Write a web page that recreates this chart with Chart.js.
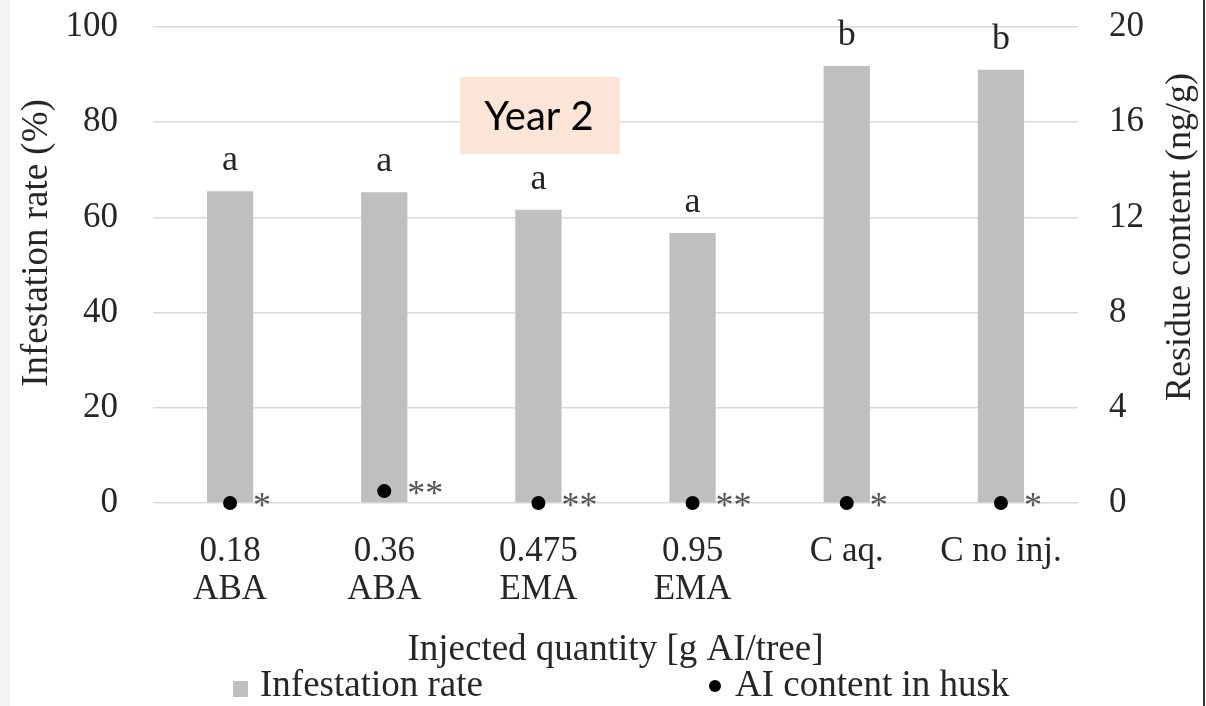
<!DOCTYPE html>
<html>
<head>
<meta charset="utf-8">
<script src="https://cdn.jsdelivr.net/npm/chart.js@4"></script>
<style>
  html, body { margin: 0; padding: 0; background: #fff; }
  #wrap { position: relative; width: 1206px; height: 706px; }
  canvas { display: block; }
</style>
</head>
<body>
<div id="wrap"><canvas id="c" width="1206" height="706"></canvas></div>
<script>
// Treatments (injected quantity / product)
const categories = [["0.18", "ABA"], ["0.36", "ABA"], ["0.475", "EMA"], ["0.95", "EMA"], ["C aq."], ["C no inj."]];
// Infestation rate (%), left axis
const infestation = [65.5, 65.3, 61.6, 56.7, 91.8, 91.0];
// AI content in husk (ng/g), right axis
const residue = [0, 0.5, 0, 0, 0, 0];
// Significance letters above bars and asterisks beside the residue points
const letters = ["a", "a", "a", "a", "b", "b"];
const stars = ["*", "**", "**", "**", "*", "*"];
// Axis ticks
const leftTicks = [0, 20, 40, 60, 80, 100];
const rightTicks = [0, 4, 8, 12, 16, 20];

const SERIF = '"Liberation Serif", "Times New Roman", serif';
const TEXT = '#262626';
const BAR = '#bfbfbf';
const GRID = '#d9d9d9';

const decor = {
  id: 'decor',
  beforeDraw(chart) {
    const ctx = chart.ctx;
    ctx.save();
    ctx.fillStyle = '#fff';
    ctx.fillRect(0, 0, chart.width, chart.height);
    ctx.fillStyle = '#f3f3f3';
    ctx.fillRect(0, 0, 10, chart.height);
    ctx.fillStyle = '#333';
    ctx.fillRect(1203, 0, 2, chart.height);
    ctx.restore();
  },
  afterDatasetsDraw(chart) {
    const ctx = chart.ctx;
    const bars = chart.getDatasetMeta(0).data;
    const pts = chart.getDatasetMeta(1).data;
    ctx.save();
    // letters above bars
    ctx.fillStyle = TEXT;
    ctx.font = '36px ' + SERIF;
    ctx.textAlign = 'center';
    ctx.textBaseline = 'alphabetic';
    bars.forEach((b, i) => ctx.fillText(letters[i], b.x, b.y - 21));
    // asterisks beside the points
    ctx.fillStyle = '#555';
    ctx.font = '36px ' + SERIF;
    ctx.textAlign = 'left';
    pts.forEach((p, i) => ctx.fillText(stars[i], p.x + 23, p.y + 14));

    // axis titles, both reading bottom to top
    ctx.fillStyle = TEXT;
    ctx.textAlign = 'center';
    ctx.textBaseline = 'alphabetic';
    ctx.font = '37px ' + SERIF;
    ctx.translate(47, 243);
    ctx.rotate(-Math.PI / 2);
    ctx.fillText('Infestation rate (%)', 0, 0);
    ctx.setTransform(1, 0, 0, 1, 0, 0);
    ctx.font = '36px ' + SERIF;
    ctx.translate(1190, 237);
    ctx.rotate(-Math.PI / 2);
    ctx.fillText('Residue content (ng/g)', 0, 0);
    ctx.setTransform(1, 0, 0, 1, 0, 0);

    // legend
    ctx.fillStyle = BAR;
    ctx.fillRect(233, 681, 15, 16);
    ctx.fillStyle = '#000';
    ctx.beginPath();
    ctx.arc(715, 686, 6, 0, Math.PI * 2);
    ctx.fill();
    ctx.fillStyle = TEXT;
    ctx.font = '37px ' + SERIF;
    ctx.textAlign = 'left';
    ctx.textBaseline = 'alphabetic';
    ctx.fillText('Infestation rate', 260, 696);
    ctx.fillText('AI content in husk', 735, 696);

    // year box
    ctx.fillStyle = '#fbe5d6';
    ctx.fillRect(460, 77, 160, 77);
    ctx.fillStyle = '#000';
    ctx.font = '40px Lato, "Open Sans", sans-serif';
    ctx.textAlign = 'center';
    ctx.textBaseline = 'middle';
    ctx.fillText('Year 2', 539, 117);
    ctx.restore();
  }
};

new Chart(document.getElementById('c'), {
  data: {
    labels: categories,
    datasets: [
      {
        type: 'bar',
        label: 'Infestation rate',
        data: infestation,
        backgroundColor: BAR,
        borderWidth: 0,
        yAxisID: 'y',
        categoryPercentage: 1,
        barPercentage: 0.3,
        order: 2
      },
      {
        type: 'line',
        label: 'AI content in husk',
        data: residue,
        showLine: false,
        pointRadius: 7,
        pointBackgroundColor: '#000',
        pointBorderWidth: 0,
        yAxisID: 'y1',
        clip: false,
        order: 1
      }
    ]
  },
  options: {
    responsive: false,
    animation: false,
    events: [],
    layout: { padding: { top: 27, left: 0, right: 0, bottom: 34 } },
    plugins: { legend: { display: false }, tooltip: { enabled: false } },
    scales: {
      x: {
        position: 'bottom',
        grid: { display: false, drawTicks: false },
        border: { display: false },
        ticks: {
          color: TEXT,
          padding: 30,
          maxRotation: 0,
          autoSkip: false,
          font: { family: SERIF, size: 35, lineHeight: 1.08 }
        },
        title: {
          display: true,
          text: 'Injected quantity [g AI/tree]',
          color: TEXT,
          font: { family: SERIF, size: 37, lineHeight: 1.2 },
          padding: { top: 0, bottom: 0 }
        },
        afterFit(s) { s.height = 169; s.paddingLeft = 0; s.paddingRight = 0; }
      },
      y: {
        position: 'left',
        min: 0, max: 100,
        afterBuildTicks(s) { s.ticks = leftTicks.map(v => ({ value: v })); },
        grid: { color: GRID, lineWidth: 1.5, drawTicks: false },
        border: { display: false },
        ticks: { color: TEXT, padding: 35, font: { family: SERIF, size: 35 } },
        afterFit(s) { s.width = 153; s.paddingTop = 0; s.paddingBottom = 0; }
      },
      y1: {
        position: 'right',
        min: 0, max: 20,
        afterBuildTicks(s) { s.ticks = rightTicks.map(v => ({ value: v })); },
        grid: { display: false, drawTicks: false },
        border: { display: false },
        ticks: { color: TEXT, padding: 31, font: { family: SERIF, size: 35 } },
        afterFit(s) { s.width = 128; s.paddingTop = 0; s.paddingBottom = 0; }
      }
    }
  },
  plugins: [decor]
});
</script>
</body>
</html>
